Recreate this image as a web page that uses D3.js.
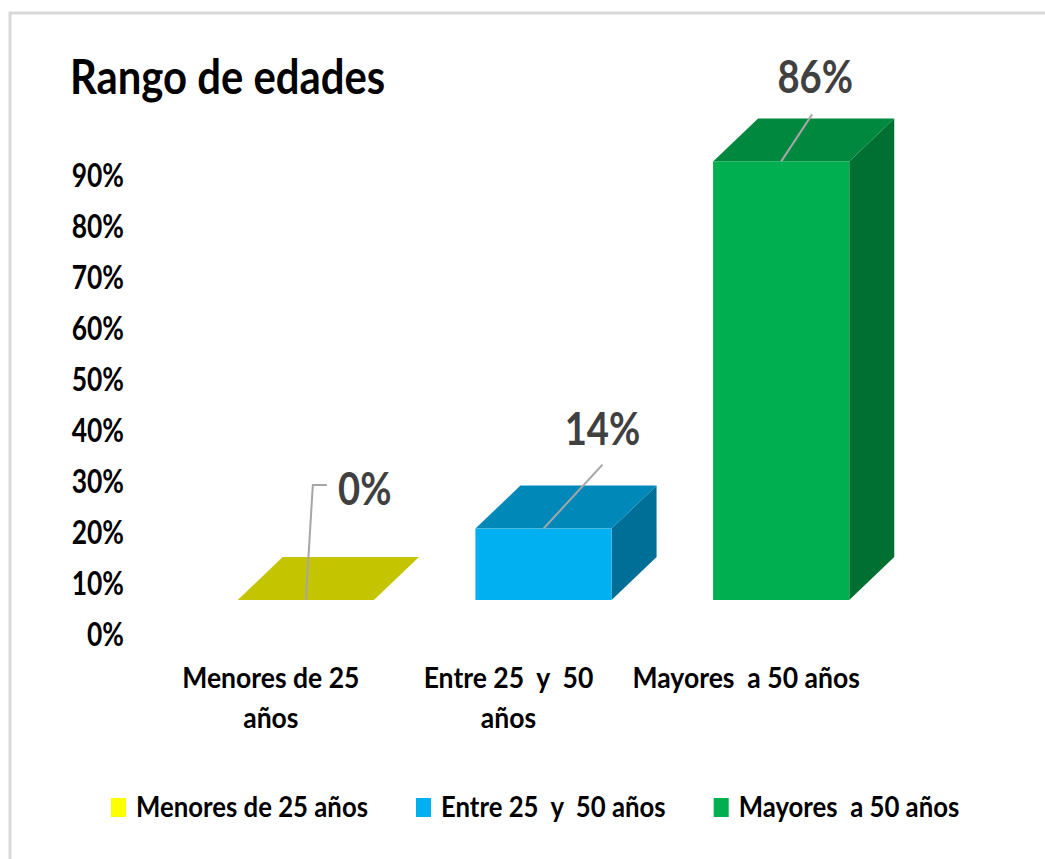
<!DOCTYPE html>
<html>
<head>
<meta charset="utf-8">
<script src="https://cdn.jsdelivr.net/npm/d3@7"></script>
<style>
  body { margin: 0; background: #fff; }
  svg { display: block; }
  text { font-family: Lato, "Open Sans", sans-serif; white-space: pre; }
</style>
</head>
<body>
<svg id="chart" width="1045" height="859"></svg>
<script>
// data
const categories = ["Menores de 25 años", "Entre 25  y  50 años", "Mayores  a 50 años"];
const values = [0, 0.14, 0.86];
const colors = ["#ffff00", "#00b0f0", "#00b050"];
const yTicks = [0, 0.1, 0.2, 0.3, 0.4, 0.5, 0.6, 0.7, 0.8, 0.9];
const title = "Rango de edades";

// label leader lines, relative to the bar's front top centre
const leaders = [
  {line: [[0, 0], [7, -115], [21, -115]], lx: 59, ly: -95},
  {line: [[0, 0], [59, -64]], lx: 59, ly: -84},
  {line: [[0, 0], [31, -47]], lx: 34, ly: -68}
];

const svg = d3.select("#chart");
const pct = d3.format(".0%");
const depth = {dx: 45, dy: -43};
const squeeze = 0.8;

const y = d3.scaleLinear().domain([0, 1]).range([600, 90]);
const x = d3.scaleBand().domain(categories).range([187, 900])
    .paddingInner(0.427).paddingOuter(0.2135);

// frame
svg.append("rect")
    .attr("x", 10).attr("y", 13).attr("width", 1100).attr("height", 900)
    .attr("fill", "none").attr("stroke", "#d9d9d9").attr("stroke-width", 3);

// title
svg.append("text")
    .attr("transform", `translate(70,94) scale(0.89,1)`)
    .attr("font-size", 47).attr("font-weight", 700).attr("fill", "#000")
    .text(title);

// y axis
const axis = svg.append("g")
    .attr("transform", "translate(124,35)")
    .call(d3.axisLeft(y).tickValues(yTicks).tickFormat(pct).tickSize(0).tickPadding(0));
axis.select(".domain").remove();
axis.selectAll("text")
    .attr("transform", `scale(${squeeze},1)`)
    .attr("font-family", null).attr("font-size", 33).attr("font-weight", 700)
    .attr("fill", "#000");

// 3D bars
function shade(c, k) {
  const r = d3.rgb(c);
  return d3.rgb(r.r * k, r.g * k, r.b * k).formatHex();
}

const bars = svg.append("g").selectAll("g").data(categories).join("g");
bars.each(function(c, i) {
  const g = d3.select(this);
  const x0 = x(c), w = x.bandwidth();
  const yt = y(values[i]), yb = y(0);
  const {dx, dy} = depth;
  g.append("polygon")
      .attr("points", [[x0 + w, yt], [x0 + w + dx, yt + dy], [x0 + w + dx, yb + dy], [x0 + w, yb]].join(" "))
      .attr("fill", shade(colors[i], 0.63));
  g.append("polygon")
      .attr("points", [[x0, yt], [x0 + dx, yt + dy], [x0 + w + dx, yt + dy], [x0 + w, yt]].join(" "))
      .attr("fill", shade(colors[i], 0.77));
  g.append("rect")
      .attr("x", x0).attr("y", yt).attr("width", w).attr("height", yb - yt)
      .attr("fill", colors[i]);
});

// data labels
const lab = svg.append("g");
categories.forEach((c, i) => {
  const cx = x(c) + x.bandwidth() / 2, cy = y(values[i]);
  const L = leaders[i];
  lab.append("path")
      .attr("d", d3.line()(L.line.map(p => [cx + p[0], cy + p[1]])))
      .attr("fill", "none").attr("stroke", "#a6a6a6").attr("stroke-width", 2);
  lab.append("text")
      .attr("transform", `translate(${cx + L.lx},${cy + L.ly}) scale(0.83,1)`)
      .attr("text-anchor", "middle")
      .attr("font-size", 46).attr("font-weight", 700).attr("fill", "#404040")
      .text(pct(values[i]));
});

// category labels, wrapped
const catSize = 29, catK = 0.915;
const probe = svg.append("text").attr("font-size", catSize).attr("font-weight", 700);
const measure = s => { probe.text(s); return probe.node().getComputedTextLength() * catK; };
function wrapLines(str, maxW) {
  const lines = [];
  let rest = str;
  while (rest) {
    let cut = rest;
    while (measure(cut) > maxW && /\s/.test(cut.trim())) cut = cut.replace(/\s+\S+\s*$/, "");
    lines.push(cut);
    rest = rest.slice(cut.length).trim();
  }
  return lines;
}
const cats = svg.append("g");
categories.forEach(c => {
  const cx = x(c) + x.bandwidth() / 2 - 35;
  wrapLines(c, 228.8).forEach((line, j) => {
    cats.append("text")
        .attr("transform", `translate(${cx},${y(0) + 88 + j * 40}) scale(${catK},1)`)
        .attr("text-anchor", "middle")
        .attr("font-size", catSize).attr("font-weight", 700).attr("fill", "#000")
        .text(line);
  });
});
probe.remove();

// legend
const legK = 0.92;
const legend = svg.append("g").attr("transform", "translate(111,817)");
let lx = 0;
categories.forEach((c, i) => {
  const item = legend.append("g").attr("transform", `translate(${lx},0)`);
  item.append("rect").attr("x", 0).attr("y", -19).attr("width", 15).attr("height", 19)
      .attr("fill", colors[i]);
  const t = item.append("text")
      .attr("transform", `translate(25,0) scale(${legK},1)`)
      .attr("font-size", 28).attr("font-weight", 700).attr("fill", "#000")
      .text(c);
  lx += 25 + t.node().getComputedTextLength() * legK + 48;
});
</script>
</body>
</html>
